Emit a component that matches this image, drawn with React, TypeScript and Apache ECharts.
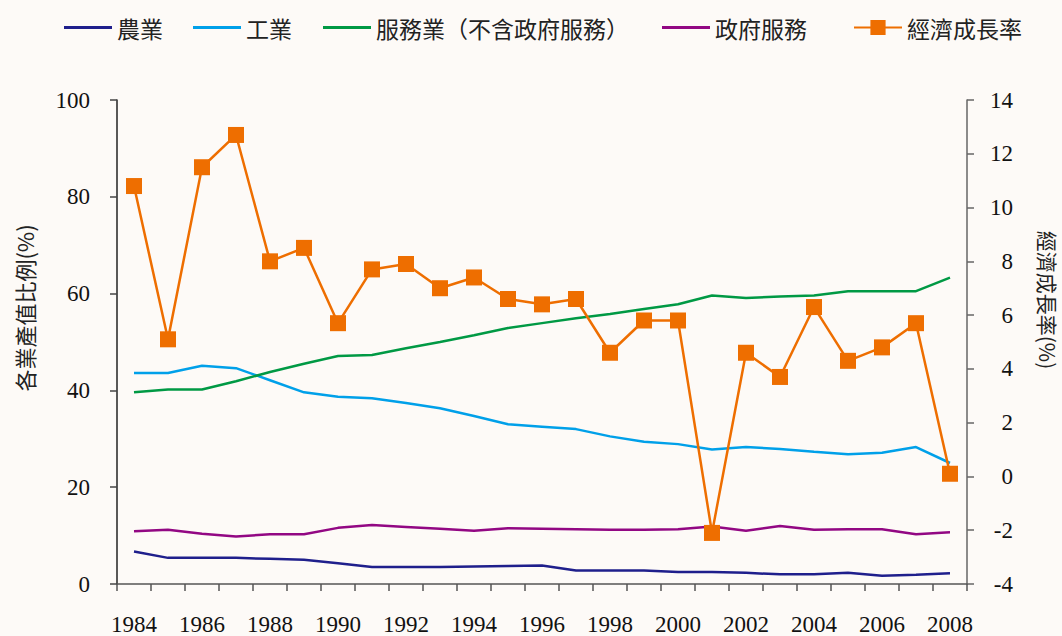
import React, { useEffect, useRef } from "react";
import * as echarts from "echarts";

const years = [
  "1984", "1985", "1986", "1987", "1988", "1989", "1990", "1991", "1992", "1993",
  "1994", "1995", "1996", "1997", "1998", "1999", "2000", "2001", "2002", "2003",
  "2004", "2005", "2006", "2007", "2008",
];
const agriculture = [6.7, 5.4, 5.4, 5.4, 5.2, 5.0, 4.3, 3.5, 3.5, 3.5, 3.6, 3.7, 3.8, 2.8, 2.8, 2.8, 2.5, 2.5, 2.3, 2.0, 2.0, 2.3, 1.7, 1.9, 2.2];
const industry = [43.6, 43.6, 45.1, 44.6, 42.1, 39.6, 38.7, 38.4, 37.4, 36.3, 34.7, 33.0, 32.5, 32.0, 30.5, 29.4, 28.9, 27.8, 28.3, 27.9, 27.3, 26.8, 27.1, 28.3, 25.0];
const services = [39.6, 40.2, 40.2, 41.9, 43.8, 45.5, 47.1, 47.3, 48.7, 50.0, 51.4, 52.9, 53.9, 54.9, 55.8, 56.8, 57.8, 59.6, 59.1, 59.4, 59.6, 60.5, 60.5, 60.5, 63.3];
const government = [10.9, 11.2, 10.4, 9.8, 10.3, 10.3, 11.6, 12.2, 11.8, 11.4, 11.0, 11.5, 11.4, 11.3, 11.2, 11.2, 11.3, 11.9, 11.0, 12.0, 11.2, 11.3, 11.3, 10.3, 10.7];
const growth = [10.8, 5.1, 11.5, 12.7, 8.0, 8.5, 5.7, 7.7, 7.9, 7.0, 7.4, 6.6, 6.4, 6.6, 4.6, 5.8, 5.8, -2.1, 4.6, 3.7, 6.3, 4.3, 4.8, 5.7, 0.1];

const seriesNames = ["農業", "工業", "服務業（不含政府服務）", "政府服務", "經濟成長率"];
const seriesColors = ["#1f1f8c", "#00a0e9", "#009944", "#920783", "#ee6e00"];
const legendLefts = [64, 193, 323, 662, 853];

const leftAxisName = "各業產值比例(%)";
const rightAxisName = "經濟成長率(%)";

const SERIF = "'Liberation Serif', 'Times New Roman', serif";
const CJK = "'Noto Sans CJK TC', 'Noto Sans CJK SC', sans-serif";

export default function App() {
  const ref = useRef<HTMLDivElement>(null);

  useEffect(() => {
    if (!ref.current) return;
    const chart = echarts.init(ref.current, undefined, { renderer: "svg" });
    const shareData = [agriculture, industry, services, government];

    const legends = seriesNames.map((name, i) => {
      const isGrowth = i === 4;
      return {
        data: isGrowth ? [name] : [{ name, icon: "rect" }],
        left: legendLefts[i],
        top: 16,
        padding: 0,
        itemWidth: 48,
        itemHeight: isGrowth ? 19 : 3,
        itemGap: 0,
        textStyle: { fontFamily: CJK, fontSize: 23, color: "#222", padding: [0, 0, 0, 0] },
      };
    });

    chart.setOption({
      animation: false,
      backgroundColor: "#fdfaf7",
      legend: legends,
      grid: { left: 117, right: 95, top: 100, bottom: 52, containLabel: false },
      xAxis: {
        type: "category",
        data: years,
        boundaryGap: true,
        axisLine: { lineStyle: { color: "#555", width: 1.5 } },
        axisTick: { show: true, interval: 0, length: 7, lineStyle: { color: "#555", width: 1.5 } },
        axisLabel: { interval: 1, margin: 29, fontFamily: SERIF, fontSize: 23, color: "#111" },
        splitLine: { show: false },
      },
      yAxis: [
        {
          type: "value",
          min: 0,
          max: 100,
          interval: 20,
          axisLine: { show: true, lineStyle: { color: "#222", width: 1.5 } },
          axisTick: { show: true, length: 7, lineStyle: { color: "#444", width: 1.5 } },
          axisLabel: { margin: 27, fontFamily: SERIF, fontSize: 23, color: "#111" },
          splitLine: { show: false },
        },
        {
          type: "value",
          position: "right",
          min: -4,
          max: 14,
          interval: 2,
          axisLine: { show: true, lineStyle: { color: "#666", width: 1.5 } },
          axisTick: { show: true, length: 7, lineStyle: { color: "#666", width: 1.5 } },
          axisLabel: { margin: 46, align: "right", fontFamily: SERIF, fontSize: 23, color: "#111" },
          splitLine: { show: false },
        },
      ],
      graphic: [
        {
          type: "text",
          x: 24,
          y: 308,
          rotation: Math.PI / 2,
          style: {
            text: leftAxisName,
            fontFamily: CJK,
            fontSize: 22,
            fill: "#222",
            textAlign: "center",
            textVerticalAlign: "middle",
          },
        },
        {
          type: "text",
          x: 1048,
          y: 300,
          rotation: -Math.PI / 2,
          style: {
            text: rightAxisName,
            fontFamily: CJK,
            fontSize: 21,
            fill: "#222",
            textAlign: "center",
            textVerticalAlign: "middle",
          },
        },
      ],
      series: [
        ...shareData.map((d, i) => ({
          name: seriesNames[i],
          type: "line",
          yAxisIndex: 0,
          data: d,
          symbol: "none",
          showSymbol: false,
          color: seriesColors[i],
          itemStyle: { color: seriesColors[i] },
          lineStyle: { color: seriesColors[i], width: 2.5 },
          z: 2,
        })),
        {
          name: seriesNames[4],
          type: "line",
          yAxisIndex: 1,
          data: growth,
          symbol: "rect",
          symbolSize: 16,
          showSymbol: true,
          color: seriesColors[4],
          itemStyle: { color: seriesColors[4] },
          lineStyle: { color: seriesColors[4], width: 2.5 },
          z: 5,
        },
      ],
    });

    return () => chart.dispose();
  }, []);

  return <div ref={ref} style={{ width: 1062, height: 636, position: "absolute", left: 0, top: 0 }} />;
}
